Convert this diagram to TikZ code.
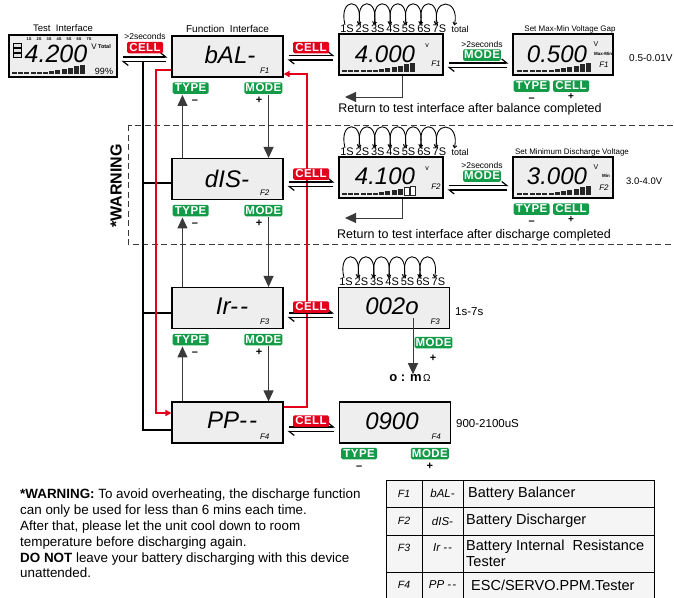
\documentclass[tikz,border=0pt]{standalone}
\usepackage{fontspec}
\setmainfont{Liberation Sans}
\usetikzlibrary{positioning, arrows.meta}
\definecolor{cellred}{HTML}{E3001B}
\definecolor{keygreen}{HTML}{149B48}
\definecolor{lcdgray}{HTML}{EEEEEE}
\definecolor{flowgray}{HTML}{3A3A3A}
\newcommand{\fs}[1]{\fontsize{#1}{#1}\selectfont}
\tikzset{
screen/.style={draw, line width=1.1pt, fill=lcdgray, minimum width=111pt, minimum height=41pt, inner sep=0pt}, % LCD frame
readout/.style={font=\itshape\fs{24}, inner sep=0pt}, % big LCD characters
fmark/.style={font=\itshape\fs{8}, inner sep=0pt}, % F1..F4 in the corner
btn/.style={text=white, font=\bfseries\fs{11.5}\addfontfeature{LetterSpace=4}, rounded corners=1.5pt, inner xsep=1pt, inner ysep=0pt, minimum height=11.5pt, minimum width=36pt}, % button names
redbtn/.style={btn, fill=cellred},
greenbtn/.style={btn, fill=keygreen},
harp/.style={line width=1.2pt, shorten <=5pt, shorten >=4pt, -{Straight Barb[left, length=5pt, width=8pt]}}, % half arrows between screens
flow/.style={line width=1pt, draw=flowgray, -{Triangle[length=11pt, width=10pt]}}, % TYPE / MODE steps
backline/.style={line width=1.6pt}, % CELL back to test interface
redpath/.style={line width=1.6pt, draw=cellred, color=cellred, -{Triangle[length=6pt, width=6pt]}},
hop/.style={line width=0.9pt, -{Straight Barb[length=2.5pt, width=4pt]}}, % cell loop arcs
lbl/.style={inner sep=0pt, font=\fs{10}},
sign/.style={inner sep=0pt, font=\bfseries\fs{11}},
tabd/.style={inner sep=0pt, anchor=west, font=\fs{14.5}},
}
% two half arrows: left screen, right screen, y of the upper line
\newcommand{\harpoons}[3]{%
\draw[harp] (#1.east |- 0,#3) -- (#2.west |- 0,#3);
\draw[harp] (#2.west |- 0,#3+4.5) -- (#1.east |- 0,#3+4.5);
}
% bar graph: lower left corner, pitch, filled segments
\newcommand{\lcdbar}[3]{%
\foreach \k [evaluate=\k as \h using {max(1.6,1.6+1.2*(\k-5))}] in {0,...,11}{
\ifnum\k<#3\relax
\fill[black!85] (#1) ++(\k*#2,0pt) rectangle ++(#2-1.3pt,\h pt);
\else
\draw[black!85, line width=0.6pt, fill=white] (#1) ++(\k*#2,0pt) rectangle ++(#2-1.3pt,\h pt);
\fi}}
% 1S..7S with the arcs between them
\newcommand{\cellhops}[3]{%
\foreach \n [count=\i] in {1S,2S,3S,4S,5S,6S,7S}
\node[lbl, font=\fs{11}] (#1\i) at (#2+15.4*\i-15.4,#3) {\n};
\foreach \i [evaluate=\i as \j using int(\i+1)] in {1,...,6}
\draw[hop] ([xshift=-2pt]#1\i.north) .. controls +(-7pt,28pt) and +(6pt,28pt) .. ([xshift=3pt]#1\j.north west);
}

\begin{document}
\begin{tikzpicture}[x=1pt, y=-1pt]
\useasboundingbox (0,0) rectangle (674,597);

% warning frame round the discharge row
\draw[line width=1pt, flowgray, dash pattern=on 6pt off 3.5pt] (128,125) rectangle (690,244);
\node[rotate=90, font=\bfseries\fs{16}, inner sep=0pt] (warnside) at (116,186) {*WARNING};

% screens
\node[screen, minimum width=108pt, minimum height=42pt] (test) at (63,56) {};
\node[screen] (bal) at (227.5,56.5) {};
\node[screen] (dis) at (227.5,179) {};
\node[screen] (ir) at (227.5,308) {};
\node[screen] (pp) at (227.5,422.5) {};
\node[screen, minimum width=104pt] (volt) at (391,54.5) {};
\node[screen, minimum width=100pt] (gap) at (563,54.5) {};
\node[screen, minimum width=104pt] (dvolt) at (391,177.5) {};
\node[screen, minimum width=100pt] (cutoff) at (563,177.5) {};
\node[screen] (res) at (394,308) {};
\node[screen] (servo) at (395,422.5) {};

% titles
\node[lbl, above=3pt of test, font=\fs{9.5}] (testlbl) {Test\ \ Interface};
\node[lbl, above=3pt of bal] (ballbl) {Function\ \ Interface};
\node[lbl, font=\fs{8}] (gaplbl) at (570,29) {Set Max-Min Voltage Gap};
\node[lbl, font=\fs{8}] (cutlbl) at (572,152) {Set Minimum Discharge Voltage};

% test screen
\foreach \n [count=\i] in {1S,2S,3S,4S,5S,6S,7S}
\node[inner sep=0pt, font=\bfseries\fs{4}] (tc\i) at (19+10*\i,39.5) {\n};
\foreach \i in {0,1,2}
\draw[line width=0.5pt, fill=gray!25] (13,43.5+5*\i) rectangle (21,47.5+5*\i);
\node[readout, font=\itshape\fs{25}] (testval) at (56,54) {4.200};
\node[inner sep=0pt, font=\fs{8}] (testv) at (94,47) {V};
\node[inner sep=0pt, font=\bfseries\fs{5.5}, right=1pt of testv] (testtot) {Total};
\node[inner sep=0pt, font=\fs{9}] (testpct) at (104,71) {99\%};
\lcdbar{12,74}{6.2pt}{12}

% function screens
\node[readout] (baltxt) at (230,55) {bAL-};
\node[fmark, above left=4pt and 14pt of bal.south east] (balf) {F1};
\node[readout] (distxt) at (227,179) {dIS-};
\node[fmark, above left=4pt and 14pt of dis.south east] (disf) {F2};
\node[readout] (irtxt) at (232,306) {Ir-\kern2pt-};
\node[fmark, above left=4pt and 14pt of ir.south east] (irf) {F3};
\node[readout] (pptxt) at (232,420) {PP-\kern2pt-};
\node[fmark, above left=4pt and 14pt of pp.south east] (ppf) {F4};

% balance row
\node[readout] (volttxt) at (385,54) {4.000};
\node[inner sep=0pt, font=\fs{7}] (voltv) at (427,46) {v};
\node[fmark] (voltf) at (436,64) {F1};
\lcdbar{342,72}{6.2pt}{12}
\node[readout] (gaptxt) at (557,54) {0.500};
\node[inner sep=0pt, font=\fs{7}] (gapv) at (596,44) {V};
\node[inner sep=0pt, font=\bfseries\fs{4.5}] (gapmm) at (603,53.5) {Max-Min};
\node[fmark] (gapf) at (604,65) {F1};
\lcdbar{517,72}{6.3pt}{12}

% discharge row
\node[readout] (dvolttxt) at (385,176) {4.100};
\node[inner sep=0pt, font=\fs{7}] (dvoltv) at (427,169) {v};
\node[fmark] (dvoltf) at (436,187) {F2};
\lcdbar{342,195}{6.2pt}{10}
\node[readout] (cuttxt) at (557,176) {3.000};
\node[inner sep=0pt, font=\fs{7}] (cutv) at (596,167) {V};
\node[inner sep=0pt, font=\bfseries\fs{4.5}] (cutmin) at (606,176) {Min};
\node[fmark] (cutf) at (604,188) {F2};
\lcdbar{517,195}{6.3pt}{12}

% resistance and servo screens
\node[readout] (restxt) at (392,306) {002o};
\node[fmark, above left=4pt and 10pt of res.south east] (resf) {F3};
\node[readout] (servotxt) at (392,421) {0900};
\node[fmark, above left=4pt and 10pt of servo.south east] (servof) {F4};

% range notes
\node[lbl, anchor=west] (gaprng) at (629,58) {0.5-0.01V};
\node[lbl, font=\fs{9.5}, anchor=west] (cutrng) at (626,181) {3.0-4.0V};
\node[lbl, font=\fs{11.5}, anchor=west] (resrng) at (455,312) {1s-7s};
\node[lbl, font=\fs{11.5}, anchor=west] (servorng) at (456,424) {900-2100uS};

% cell arcs
\cellhops{ca}{347}{29}
\node[lbl, font=\fs{9}, right=5pt of ca7] (ca8) {total};
\draw[hop] ([xshift=-2pt]ca7.north) .. controls +(-7pt,28pt) and +(6pt,28pt) .. ([xshift=3pt]ca8.north west);
\cellhops{cb}{347}{152}
\node[lbl, font=\fs{9}, right=5pt of cb7] (cb8) {total};
\draw[hop] ([xshift=-2pt]cb7.north) .. controls +(-7pt,28pt) and +(6pt,28pt) .. ([xshift=3pt]cb8.north west);
\cellhops{cc}{346}{282}

% CELL back to test interface
\coordinate (retjoin) at (143,61.5);
\draw[backline] (retjoin) |- ([yshift=-7.5pt]pp.west);
\draw[backline] ([yshift=-4pt]dis.west) -- (retjoin |- 0,183);
\draw[backline] ([yshift=-5pt]ir.west) -- (retjoin |- 0,313);

% F1 -> F4 and F4 -> F1
\draw[redpath] ([yshift=-13.5pt]bal.west) -| (156,413) -- ([yshift=9.5pt]pp.west);
\draw[redpath] ([yshift=15.5pt]pp.east) -| (307,74) -- ([yshift=-17.5pt]bal.east);

% half arrows
\harpoons{test}{bal}{57}
\harpoons{bal}{volt}{55.5}
\harpoons{volt}{gap}{63}
\harpoons{dis}{dvolt}{182}
\harpoons{dvolt}{cutoff}{185.5}
\harpoons{ir}{res}{313}
\harpoons{pp}{servo}{427}

% buttons on the half arrows
\node[redbtn] (cell0) at (145,47.5) {CELL};
\node[lbl, font=\fs{8.5}, above=1.5pt of cell0] (hold0) {>2seconds};
\node[redbtn] (cell1) at (311,47.5) {CELL};
\node[greenbtn] (hmode1) at (482,55) {MODE};
\node[lbl, font=\fs{8.5}, above=1.5pt of hmode1] (hold1) {>2seconds};
\node[redbtn] (cell2) at (311,174) {CELL};
\node[greenbtn] (hmode2) at (482,176) {MODE};
\node[lbl, font=\fs{8.5}, above=1.5pt of hmode2] (hold2) {>2seconds};
\node[redbtn] (cell3) at (311,307) {CELL};
\node[redbtn] (cell4) at (311,421) {CELL};

% TYPE / MODE down the function column
\foreach \a/\b/\i in {bal/dis/1,dis/ir/2,ir/pp/3} {
\node[greenbtn, below right=4.5pt and 1pt of \a.south west] (type\i) {TYPE};
\node[greenbtn, below left=4.5pt and 1pt of \a.south east] (mode\i) {MODE};
\node[sign, below right=6pt and 1pt of type\i.south] (minus\i) {–};
\node[sign, below left=3pt and 1pt of mode\i.south] (plus\i) {+};
\draw[flow] ([xshift=11pt]\b.north west) -- ([xshift=10pt,yshift=-1pt]type\i.south west);
\draw[flow] ([xshift=-14pt,yshift=-1pt]mode\i.south east) -- ([xshift=-15pt]\b.north east);
}

% buttons under the setting screens
\node[greenbtn, below right=4.5pt and 1pt of gap.south west] (gtype1) {TYPE};
\node[greenbtn, right=3pt of gtype1] (gcell1) {CELL};
\node[sign, below=5.5pt of gtype1] (gminus1) {–};
\node[sign, font=\bfseries\fs{10}, below=1.5pt of gcell1] (gplus1) {+};
\node[greenbtn, below right=4.5pt and 1pt of cutoff.south west] (gtype2) {TYPE};
\node[greenbtn, right=3pt of gtype2] (gcell2) {CELL};
\node[sign, below=5.5pt of gtype2] (gminus2) {–};
\node[sign, font=\bfseries\fs{10}, below=1.5pt of gcell2] (gplus2) {+};

% return after completion
\coordinate (ret1) at (345,97);
\draw[flow] ([xshift=11pt]volt.south) |- (ret1);
\node[lbl, font=\fs{12.5}] (ret1txt) at (470,109) {Return to test interface after balance completed};
\coordinate (ret2) at (345,218);
\draw[flow] ([xshift=11pt]dvolt.south) |- (ret2);
\node[lbl, font=\fs{12.5}] (ret2txt) at (474,235) {Return to test interface after discharge completed};

% resistance unit
\coordinate (resdot) at (413,318);
\node[inner sep=0pt, font=\bfseries\fs{13}] (ohm) at (410,378) {o : m{\mdseries\fs{10}\,Ω}};
\draw[flow] (resdot) -- (resdot |- ohm.north);
\node[greenbtn] (rmode) at (433.5,342.5) {MODE};
\node[sign] (rplus) at (433,358) {+};

% servo buttons
\node[greenbtn, below right=4pt and 2pt of servo.south west] (stype) {TYPE};
\node[greenbtn, below left=4pt and 2pt of servo.south east] (smode) {MODE};
\node[sign, below=6pt of stype] (sminus) {–};
\node[sign, below=3pt of smode] (splus) {+};

% warning note
\node[anchor=north west, align=left, inner sep=0pt, font=\fontsize{13.4}{15.8}\selectfont] (warn) at (20,489)
{\textbf{*WARNING:} To avoid overheating, the discharge function\\
can only be used for less than 6 mins each time.\\
After that, please let the unit cool down to room\\
temperature before discharging again.\\
\textbf{DO NOT} leave your battery discharging with this device\\
unattended.};

% function table
\fill[lcdgray!60] (386,480) rectangle (654,600);
\draw[line width=1pt] (386,600) -- (386,480) -- (654,480) -- (654,600);
\foreach \y in {507,535,572} \draw[line width=0.8pt] (386,\y) -- (654,\y);
\foreach \x in {422,463} \draw[line width=0.8pt] (\x,480) -- (\x,600);
\node[fmark, font=\itshape\fs{10.5}] (tf1) at (404,493.5) {F1};
\node[fmark, font=\itshape\fs{10.5}] (tf2) at (404,521) {F2};
\node[fmark, font=\itshape\fs{10.5}] (tf3) at (404,548) {F3};
\node[fmark, font=\itshape\fs{10.5}] (tf4) at (404,585) {F4};
\node[fmark, font=\itshape\fs{11.5}] (tc1) at (442.5,493.5) {bAL-};
\node[fmark, font=\itshape\fs{11.5}] (tc2) at (442.5,521) {dIS-};
\node[fmark, font=\itshape\fs{11.5}] (tc3) at (442.5,548) {Ir -\kern1pt-};
\node[fmark, font=\itshape\fs{11.5}] (tc4) at (442.5,585) {PP -\kern1pt-};
\node[tabd] (td1) at (468,493.5) {Battery Balancer};
\node[tabd] (td2) at (466,521) {Battery Discharger};
\node[tabd, align=left, font=\fontsize{14.5}{15.5}\selectfont] (td3) at (466,553.5) {Battery Internal\ \ Resistance\\Tester};
\node[tabd] (td4) at (471,585) {ESC/SERVO.PPM.Tester};
\end{tikzpicture}
\end{document}
